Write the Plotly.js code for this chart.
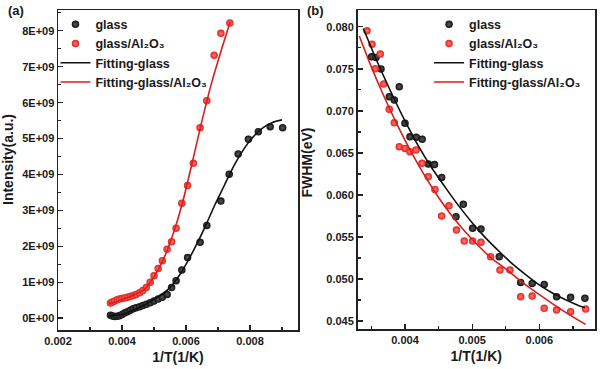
<!DOCTYPE html>
<html>
<head>
<meta charset="utf-8">
<script src="https://cdn.plot.ly/plotly-3.0.1.min.js"></script>
<style>html,body{margin:0;padding:0;background:#fff;}#chart{width:600px;height:369px;}</style>
</head>
<body>
<div id="chart"></div>
<script>
// ---------- Panel (a): Intensity vs 1/T ----------
const aGlassX = [0.00364,0.00370,0.00377,0.00385,0.00392,0.00400,0.00408,0.00417,0.00426,0.00435,0.00444,0.00455,0.00465,0.00476,0.00488,0.00500,0.00513,0.00526,0.00541,
                 0.00555,0.00569,0.00587,0.00605,0.00644,0.00665,0.00709,0.00735,0.00763,0.00795,0.00826,0.00863,0.00902];
const aGlassY = [0.08,0.06,0.045,0.05,0.07,0.10,0.14,0.18,0.22,0.26,0.29,0.32,0.35,0.39,0.43,0.48,0.53,0.58,0.66,
                 0.85,1.04,1.34,1.69,2.11,2.58,3.26,4.01,4.57,4.98,5.19,5.33,5.30].map(v => v * 1e9);
const aAlX = [0.00364,0.00370,0.00377,0.00385,0.00392,0.00400,0.00408,0.00417,0.00426,0.00435,0.00444,0.00455,0.00465,0.00476,0.00488,0.00500,0.00513,0.00526,0.00541,
              0.00555,0.00569,0.00587,0.00605,0.00623,0.00644,0.00665,0.00688,0.00709,0.00737];
const aAlY = [0.42,0.45,0.48,0.51,0.53,0.55,0.56,0.58,0.60,0.63,0.66,0.71,0.77,0.85,1.00,1.18,1.38,1.60,1.92,
              2.13,2.50,3.20,3.69,4.31,5.30,6.05,7.32,7.93,8.22].map(v => v * 1e9);
const aFitGlassX = [0.0036,0.0040,0.0045,0.0050,0.0055,0.0058,0.0060,0.0063,0.0066,0.0069,0.0072,0.0075,0.0078,0.0081,0.0084,0.0087,0.0090];
const aFitGlassY = [0.06,0.10,0.28,0.52,0.85,1.20,1.50,2.00,2.55,3.15,3.70,4.25,4.70,5.05,5.30,5.45,5.52].map(v => v * 1e9);
const aFitAlX = [0.0036,0.0040,0.0044,0.0047,0.0050,0.0053,0.0056,0.0059,0.0062,0.0065,0.0068,0.0071,0.00738];
const aFitAlY = [0.40,0.52,0.66,0.80,1.15,1.65,2.35,3.25,4.35,5.50,6.55,7.45,8.25].map(v => v * 1e9);
const aXTickVals = [0.002,0.004,0.006,0.008];
const aXTickText = ['0.002','0.004','0.006','0.008'];
const aYTickVals = [0,1e9,2e9,3e9,4e9,5e9,6e9,7e9,8e9];
const aYTickText = ['0E+00','1E+09','2E+09','3E+09','4E+09','5E+09','6E+09','7E+09','8E+09'];

// ---------- Panel (b): FWHM vs 1/T ----------
const bGlassX = [0.003504,0.003568,0.003643,0.003766,0.003841,0.003915,0.004000,0.004074,0.004168,0.004256,0.004347,0.004439,0.004546,
                 0.004759,0.004868,0.005007,0.005131,0.005403,0.005722,0.005894,0.006073,0.006257,0.006466,0.006679];
const bGlassY = [0.07643,0.07636,0.07497,0.07168,0.07128,0.07287,0.06854,0.06692,0.06686,0.06662,0.06367,0.06361,0.06209,
                 0.05740,0.05888,0.05603,0.05594,0.05265,0.04960,0.04948,0.04936,0.04789,0.04782,0.04770];
const bAlX = [0.003435,0.003509,0.003558,0.003632,0.003683,0.003766,0.003841,0.003915,0.004000,0.004074,0.004164,0.004253,0.004347,0.004446,
              0.004546,0.004655,0.004766,0.004882,0.005007,0.005131,0.005275,0.005414,0.005563,0.005722,0.005894,0.006073,0.006257,0.006466,0.006689];
const bAlY = [0.07953,0.07794,0.07500,0.07676,0.07319,0.07018,0.06858,0.06573,0.06554,0.06514,0.06534,0.06376,0.06216,0.06066,
              0.05749,0.05871,0.05582,0.05451,0.05451,0.05436,0.05265,0.05107,0.05107,0.04789,0.04797,0.04651,0.04631,0.04611,0.04643];
const bFitGlassX = [0.00338,0.0036,0.0038,0.0040,0.0042,0.0044,0.0046,0.0048,0.0050,0.0052,0.0054,0.0056,0.0058,0.0060,0.0062,0.0064,0.0066,0.00668];
const bFitGlassY = [0.0798,0.0756,0.0721,0.0688,0.0658,0.0632,0.0609,0.0587,0.0567,0.0549,0.0533,0.0518,0.0505,0.0493,0.0483,0.0475,0.0468,0.04658];
const bFitAlX = [0.00332,0.0035,0.0037,0.0039,0.0041,0.0043,0.0045,0.0047,0.0049,0.0051,0.0053,0.0055,0.0057,0.0059,0.0061,0.0063,0.0065,0.00669];
const bFitAlY = [0.0789,0.0752,0.0715,0.0681,0.0650,0.0622,0.0597,0.0575,0.0556,0.0539,0.0524,0.0512,0.0499,0.0487,0.0476,0.0465,0.0455,0.0446];
const bXTickVals = [0.004,0.005,0.006];
const bXTickText = ['0.004','0.005','0.006'];
const bYTickVals = [0.045,0.050,0.055,0.060,0.065,0.070,0.075,0.080];
const bYTickText = ['0.045','0.050','0.055','0.060','0.065','0.070','0.075','0.080'];

const seriesNames = ['glass','glass/Al\u2082O\u2083','Fitting-glass','Fitting-glass/Al\u2082O\u2083'];

const BLACK = '#111111', RED = '#e3231d', REDLINE = '#d41f1a';
const blackMarker = {color: BLACK, size: 7.5, gradient: {type: 'radial', color: '#5a5a5a'}, line: {width: 0}};
const redMarker = {color: RED, size: 7.5, gradient: {type: 'radial', color: '#ff7a7a'}, line: {width: 0}};

function pts(x, y, name, marker, xa, ya, lg) {
  return {type: 'scatter', mode: 'markers', x: x, y: y, name: name, marker: marker, xaxis: xa, yaxis: ya, legend: lg, cliponaxis: true};
}
function fit(x, y, name, color, xa, ya, lg) {
  return {type: 'scatter', mode: 'lines', x: x, y: y, name: name, line: {color: color, width: 1.6, shape: 'spline', smoothing: 0.8}, xaxis: xa, yaxis: ya, legend: lg};
}

const data = [
  pts(aGlassX, aGlassY, seriesNames[0], blackMarker, 'x', 'y', 'legend'),
  pts(aAlX, aAlY, seriesNames[1], redMarker, 'x', 'y', 'legend'),
  fit(aFitGlassX, aFitGlassY, seriesNames[2], BLACK, 'x', 'y', 'legend'),
  fit(aFitAlX, aFitAlY, seriesNames[3], REDLINE, 'x', 'y', 'legend'),
  pts(bGlassX, bGlassY, seriesNames[0], blackMarker, 'x2', 'y2', 'legend2'),
  pts(bAlX, bAlY, seriesNames[1], redMarker, 'x2', 'y2', 'legend2'),
  fit(bFitGlassX, bFitGlassY, seriesNames[2], BLACK, 'x2', 'y2', 'legend2'),
  fit(bFitAlX, bFitAlY, seriesNames[3], REDLINE, 'x2', 'y2', 'legend2')
];

const axisCommon = {
  showline: true, mirror: true, linecolor: '#222', linewidth: 1.5,
  showgrid: false, zeroline: false,
  ticks: 'inside', ticklen: 5, tickwidth: 1.3, tickcolor: '#222',
  tickmode: 'array',
  tickfont: {size: 11, color: '#1a1a1a', weight: 'bold'},
  automargin: false
};
const legendCommon = {
  xanchor: 'left', yanchor: 'top', bgcolor: 'rgba(0,0,0,0)', borderwidth: 0,
  font: {size: 12.5, color: '#1a1a1a', weight: 'bold'}, itemwidth: 30, tracegroupgap: 0
};
const annFont = {size: 13, weight: 'bold', color: '#1a1a1a'};

const layout = {
  width: 600, height: 369,
  margin: {l: 58, r: 5, t: 10, b: 39},
  paper_bgcolor: '#fff', plot_bgcolor: '#fff',
  font: {family: 'Liberation Sans, Arial, sans-serif', color: '#1a1a1a'},
  showlegend: true,
  xaxis: Object.assign({}, axisCommon, {
    domain: [0, 0.44693], range: [0.002, 0.0095], anchor: 'y',
    tickvals: aXTickVals, ticktext: aXTickText,
    minor: {tickmode: 'linear', tick0: 0.002, dtick: 0.001, ticks: 'inside', ticklen: 3, tickwidth: 1.2, tickcolor: '#222'},
    title: {text: '1/T(1/K)', font: {size: 14, weight: 'bold', color: '#1a1a1a'}, standoff: 6}
  }),
  yaxis: Object.assign({}, axisCommon, {
    domain: [0, 1], range: [-0.33e9, 8.58e9], anchor: 'x',
    tickvals: aYTickVals, ticktext: aYTickText,
    minor: {tickmode: 'linear', tick0: 0, dtick: 0.5e9, ticks: 'inside', ticklen: 3, tickwidth: 1.2, tickcolor: '#222'}
  }),
  xaxis2: Object.assign({}, axisCommon, {
    domain: [0.55773, 1], range: [0.003293, 0.006829], anchor: 'y2',
    tickvals: bXTickVals, ticktext: bXTickText,
    minor: {tickmode: 'linear', tick0: 0.0035, dtick: 0.0005, ticks: 'inside', ticklen: 3, tickwidth: 1.2, tickcolor: '#222'},
    title: {text: '1/T(1/K)', font: {size: 14, weight: 'bold', color: '#1a1a1a'}, standoff: 6}
  }),
  yaxis2: Object.assign({}, axisCommon, {
    domain: [0.003, 1], range: [0.04405, 0.0820], anchor: 'x2',
    tickvals: bYTickVals, ticktext: bYTickText,
    minor: {tickmode: 'linear', tick0: 0.045, dtick: 0.0025, ticks: 'inside', ticklen: 3, tickwidth: 1.2, tickcolor: '#222'}
  }),
  legend: Object.assign({}, legendCommon, {x: -0.0047, y: 1.001}),
  legend2: Object.assign({}, legendCommon, {x: 0.691, y: 1.001}),
  annotations: [
    {text: '(a)', xref: 'paper', yref: 'paper', x: -0.0782, y: 1.0, xanchor: 'center', yanchor: 'middle', showarrow: false, font: annFont},
    {text: '(b)', xref: 'paper', yref: 'paper', x: 0.4786, y: 1.0, xanchor: 'center', yanchor: 'middle', showarrow: false, font: annFont},
    {text: 'Intensity(a.u.)', xref: 'paper', yref: 'paper', x: -0.0931, y: 0.53125, xanchor: 'center', yanchor: 'middle', textangle: -90, showarrow: false, font: {size: 14, weight: 'bold', color: '#1a1a1a'}},
    {text: 'FWHM(eV)', xref: 'paper', yref: 'paper', x: 0.4637, y: 0.5234, xanchor: 'center', yanchor: 'middle', textangle: -90, showarrow: false, font: {size: 14, weight: 'bold', color: '#1a1a1a'}}
  ]
};

Plotly.newPlot('chart', data, layout, {displayModeBar: false, staticPlot: true});
</script>
</body>
</html>
